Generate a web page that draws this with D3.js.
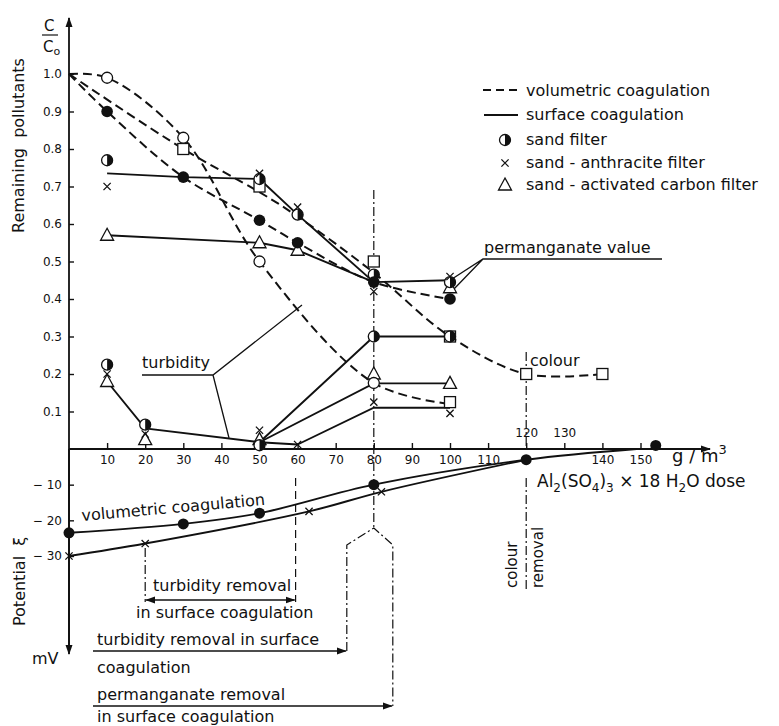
<!DOCTYPE html>
<html>
<head>
<meta charset="utf-8">
<script src="https://cdn.jsdelivr.net/npm/d3@7"></script>
<style>
  body { margin: 0; background: #fff; }
  svg text { font-family: "DejaVu Sans", sans-serif; fill: #111; }
</style>
</head>
<body>
<div id="chart-area"></div>
<script>
// tick values
const xTicks = [10, 20, 30, 40, 50, 60, 70, 80, 90, 100, 110, 120, 130, 140, 150];
const yTicks = [0.1, 0.2, 0.3, 0.4, 0.5, 0.6, 0.7, 0.8, 0.9, 1.0];
const potTicks = [-10, -20, -30];

// volumetric coagulation (dashed) curves, C/Co
const turbVolLine = [[0, 1.0], [10, 0.99], [30, 0.83], [50, 0.50], [80, 0.176], [100, 0.12]];
const colourVolLine = [[0, 1.0], [30, 0.80], [50, 0.685], [60, 0.62], [80, 0.47], [100, 0.30], [120, 0.20], [140, 0.20]];
const permVolLine = [[0, 1.0], [10, 0.90], [30, 0.725], [50, 0.61], [60, 0.55], [80, 0.445], [100, 0.40]];

// surface coagulation (solid) lines
const permSurfA = [[10, 0.735], [30, 0.725], [50, 0.72], [60, 0.625], [80, 0.445], [100, 0.45]];
const permSurfB = [[10, 0.57], [50, 0.55], [60, 0.53], [80, 0.445]];
const turbSurfMain = [[10, 0.18], [20, 0.055], [50, 0.018], [60, 0.012]];
const turbSurfHalf = [[50, 0.018], [80, 0.30], [100, 0.30]];
const turbSurfTri = [[50, 0.018], [80, 0.175], [100, 0.175]];
const turbSurfX = [[60, 0.012], [80, 0.11], [100, 0.11]];

// markers
const openPts = [[10, 0.99], [30, 0.83], [50, 0.50], [80, 0.176]];
const squarePts = [[30, 0.80], [50, 0.70], [80, 0.50], [100, 0.30], [120, 0.20], [140, 0.20], [100, 0.125]];
const filledPts = [[10, 0.90], [30, 0.725], [50, 0.61], [60, 0.55], [80, 0.445], [100, 0.40]];
const halfPts = [[10, 0.77], [50, 0.72], [60, 0.625], [80, 0.465], [100, 0.445],
                 [10, 0.225], [20, 0.065], [50, 0.01], [80, 0.30], [100, 0.30]];
const crossPts = [[10, 0.70], [50, 0.735], [60, 0.645], [80, 0.42], [100, 0.46],
                  [10, 0.20], [20, 0.04], [50, 0.05], [60, 0.012], [80, 0.125], [100, 0.095]];
const triPts = [[10, 0.57], [50, 0.55], [60, 0.53], [100, 0.43],
                [10, 0.18], [20, 0.025], [50, 0.025], [80, 0.20], [100, 0.175]];

// zeta potential, mV
const potVolLine = [[0, -23.5], [30, -21], [50, -18], [80, -10], [120, -3], [149, 0]];
const potSurfLine = [[0, -30], [20, -26.5], [63, -17.5], [82, -12], [120, -3]];
const potFilled = [[0, -23.5], [30, -21], [50, -18], [80, -10], [120, -3], [154, 1]];
const potCross = [[0, -30], [20, -26.5], [63, -17.5], [82, -12]];

const W = 779, H = 726;
const svg = d3.select("#chart-area").append("svg")
  .attr("width", W).attr("height", H);
svg.append("rect").attr("width", W).attr("height", H).attr("fill", "#fff");

const x = d3.scaleLinear().domain([0, 150]).range([69, 640.5]);
const y = d3.scaleLinear().domain([0, 1]).range([449, 74]);
const yPot = d3.scaleLinear().domain([0, -30]).range([449, 556]);

const ink = "#111";
const DASH = "9,5";
const DASHDOT = "9,3,2,3";

// arrow marker
const defs = svg.append("defs");
defs.append("marker").attr("id", "arr").attr("viewBox", "0 0 10 10")
  .attr("refX", 9).attr("refY", 5).attr("markerWidth", 10).attr("markerHeight", 10)
  .attr("markerUnits", "userSpaceOnUse").attr("orient", "auto-start-reverse")
  .append("path").attr("d", "M0,1.5L10,5L0,8.5Z").attr("fill", ink);

// axes lines with arrows
svg.append("line").attr("x1", 69).attr("y1", 449).attr("x2", 710).attr("y2", 449)
  .attr("stroke", ink).attr("stroke-width", 1.8).attr("marker-end", "url(#arr)");
svg.append("line").attr("x1", 69).attr("y1", 652).attr("x2", 69).attr("y2", 18)
  .attr("stroke", ink).attr("stroke-width", 1.8).attr("marker-end", "url(#arr)");
svg.append("line").attr("x1", 69).attr("y1", 449).attr("x2", 69).attr("y2", 654)
  .attr("stroke", ink).attr("stroke-width", 1.8).attr("marker-end", "url(#arr)");

// x axis ticks
const xAxis = svg.append("g").attr("transform", "translate(0,449)")
  .call(d3.axisBottom(x).tickValues(xTicks).tickSizeInner(-6).tickSizeOuter(0).tickPadding(6));
xAxis.select(".domain").remove();
xAxis.selectAll("line").attr("stroke", ink).attr("stroke-width", 1.4);
xAxis.selectAll("text").attr("font-size", 12).attr("font-family", "DejaVu Sans").attr("fill", ink)
  .filter(d => d === 120 || d === 130).attr("dy", null).attr("y", -12);

// y axis ticks
const yAxis = svg.append("g").attr("transform", "translate(69,0)")
  .call(d3.axisLeft(y).tickValues(yTicks).tickSizeInner(-5).tickSizeOuter(0).tickPadding(7).tickFormat(d3.format(".1f")));
yAxis.select(".domain").remove();
yAxis.selectAll("line").attr("stroke", ink).attr("stroke-width", 1.4);
yAxis.selectAll("text").attr("font-size", 12).attr("font-family", "DejaVu Sans").attr("fill", ink);

const pAxis = svg.append("g").attr("transform", "translate(69,0)")
  .call(d3.axisLeft(yPot).tickValues(potTicks).tickSizeInner(-5).tickSizeOuter(0).tickPadding(7)
    .tickFormat(d => "\u2212 " + Math.abs(d)));
pAxis.select(".domain").remove();
pAxis.selectAll("line").attr("stroke", ink).attr("stroke-width", 1.4);
pAxis.selectAll("text").attr("font-size", 12).attr("font-family", "DejaVu Sans").attr("fill", ink);

// line generators
const smooth = d3.line().x(d => x(d[0])).y(d => y(d[1])).curve(d3.curveCatmullRom.alpha(0.5));
const straight = d3.line().x(d => x(d[0])).y(d => y(d[1]));
const potLine = d3.line().x(d => x(d[0])).y(d => yPot(d[1])).curve(d3.curveCatmullRom.alpha(0.5));

const lines = svg.append("g").attr("fill", "none").attr("stroke", ink);
[turbVolLine, colourVolLine, permVolLine].forEach(s => {
  lines.append("path").attr("d", smooth(s)).attr("stroke-width", 2).attr("stroke-dasharray", DASH);
});
[permSurfA, permSurfB, turbSurfMain, turbSurfHalf, turbSurfTri, turbSurfX].forEach(s => {
  lines.append("path").attr("d", straight(s)).attr("stroke-width", 1.9);
});
[potVolLine, potSurfLine].forEach(s => {
  lines.append("path").attr("d", potLine(s)).attr("stroke-width", 1.9);
});

// guide lines (dash-dot / dashed)
const guides = svg.append("g").attr("fill", "none").attr("stroke", ink).attr("stroke-width", 1.2);
guides.append("line").attr("x1", x(80)).attr("x2", x(80)).attr("y1", 190).attr("y2", 528).attr("stroke-dasharray", DASHDOT);
guides.append("path").attr("d", `M${x(80) - 27},${651}V545L${x(80)},528L${x(80) + 19},545V706`).attr("stroke-dasharray", DASHDOT);
guides.append("line").attr("x1", x(120)).attr("x2", x(120)).attr("y1", 352).attr("y2", 449).attr("stroke-dasharray", DASHDOT);
guides.append("line").attr("x1", x(120)).attr("x2", x(120)).attr("y1", 478).attr("y2", 590).attr("stroke-dasharray", DASHDOT);
guides.append("line").attr("x1", x(60) - 2).attr("x2", x(60) - 2).attr("y1", 478).attr("y2", 602).attr("stroke-dasharray", "8,5");
guides.append("line").attr("x1", x(20)).attr("x2", x(20)).attr("y1", 548).attr("y2", 602).attr("stroke-dasharray", DASHDOT);

// range arrows
const arrows = svg.append("g").attr("stroke", ink).attr("stroke-width", 1.3);
arrows.append("line").attr("x1", x(20) + 1).attr("x2", x(60) - 3).attr("y1", 600).attr("y2", 600)
  .attr("marker-start", "url(#arr)").attr("marker-end", "url(#arr)");
arrows.append("line").attr("x1", 93).attr("x2", x(80) - 28).attr("y1", 651).attr("y2", 651).attr("marker-end", "url(#arr)");
arrows.append("line").attr("x1", 93).attr("x2", x(80) + 18).attr("y1", 706).attr("y2", 706).attr("marker-end", "url(#arr)");

// leader lines for labels
const lead = svg.append("g").attr("stroke", ink).attr("stroke-width", 1.3).attr("fill", "none");
lead.append("path").attr("d", "M142,375H213L302,305M213,375L229,438");
lead.append("path").attr("d", `M662,259H483L${x(100) + 2},279M483,259L${x(100) + 3},290`);

// marker drawers
const mk = svg.append("g");
function openC(g, p, sy) {
  g.append("circle").attr("cx", x(p[0])).attr("cy", sy(p[1])).attr("r", 5.5)
    .attr("fill", "#fff").attr("stroke", ink).attr("stroke-width", 1.3);
}
function filledC(g, p, sy, r) {
  g.append("circle").attr("cx", x(p[0])).attr("cy", sy(p[1])).attr("r", r || 5.8).attr("fill", ink);
}
function halfC(g, px, py) {
  const r = 5.5;
  g.append("circle").attr("cx", px).attr("cy", py).attr("r", r)
    .attr("fill", "#fff").attr("stroke", ink).attr("stroke-width", 1.3);
  g.append("path").attr("d", `M${px},${py - r}A${r},${r} 0 0 1 ${px},${py + r}Z`).attr("fill", ink);
}
function cross(g, px, py) {
  const s = 3.6;
  g.append("path").attr("d", `M${px - s},${py - s}L${px + s},${py + s}M${px - s},${py + s}L${px + s},${py - s}`)
    .attr("stroke", ink).attr("stroke-width", 1.3);
}
function tri(g, px, py) {
  g.append("path").attr("d", `M${px},${py - 7}L${px + 6.5},${py + 5}L${px - 6.5},${py + 5}Z`)
    .attr("fill", "#fff").attr("stroke", ink).attr("stroke-width", 1.3);
}
function square(g, px, py) {
  g.append("rect").attr("x", px - 5.5).attr("y", py - 5.5).attr("width", 11).attr("height", 11)
    .attr("fill", "#fff").attr("stroke", ink).attr("stroke-width", 1.3);
}

squarePts.forEach(p => square(mk, x(p[0]), y(p[1])));
triPts.forEach(p => tri(mk, x(p[0]), y(p[1])));
openPts.forEach(p => openC(mk, p, y));
halfPts.forEach(p => halfC(mk, x(p[0]), y(p[1])));
filledPts.forEach(p => filledC(mk, p, y));
crossPts.forEach(p => cross(mk, x(p[0]), y(p[1])));
potFilled.forEach(p => filledC(mk, p, yPot, 5.5));
potCross.forEach(p => cross(mk, x(p[0]), yPot(p[1])));

// legend
const lg = svg.append("g");
lg.append("line").attr("x1", 483).attr("x2", 518).attr("y1", 90).attr("y2", 90)
  .attr("stroke", ink).attr("stroke-width", 2).attr("stroke-dasharray", "8,5");
lg.append("line").attr("x1", 484).attr("x2", 518).attr("y1", 115).attr("y2", 115)
  .attr("stroke", ink).attr("stroke-width", 2);
halfC(lg, 505, 140);
cross(lg, 505, 163);
tri(lg, 505, 185);
const legendText = ["volumetric coagulation", "surface coagulation", "sand filter",
                    "sand - anthracite filter", "sand - activated carbon filter"];
const legendY = [96, 120, 145, 168, 190];
lg.selectAll("text.lt").data(legendText).enter().append("text")
  .attr("x", 526).attr("y", (d, i) => legendY[i]).attr("font-size", 16).text(d => d);

// text labels
function label(t, px, py, fs) {
  return svg.append("text").attr("x", px).attr("y", py).attr("font-size", fs || 16).text(t);
}
label("permanganate value", 484, 253);
label("colour", 530, 366);
label("turbidity", 142, 368);
label("turbidity removal", 153, 591);
label("in surface coagulation", 136, 618);
label("turbidity removal in surface", 97, 645);
label("coagulation", 97, 673);
label("permanganate removal", 97, 700);
label("in surface coagulation", 97, 722);
label("mV", 32, 664);

svg.append("text").attr("transform", "translate(82,521) rotate(-5)").attr("font-size", 16)
  .text("volumetric coagulation");

svg.append("text").attr("transform", "translate(517,588) rotate(-90)").attr("font-size", 15).text("colour");
svg.append("text").attr("transform", "translate(543,588) rotate(-90)").attr("font-size", 15).text("removal");

svg.append("text").attr("transform", "translate(24,233) rotate(-90)").attr("font-size", 16)
  .attr("xml:space", "preserve").text("Remaining  pollutants");
svg.append("text").attr("transform", "translate(25,626) rotate(-90)").attr("font-size", 16)
  .attr("xml:space", "preserve").text("Potential  \u03be");

// C/Co
label("C", 44, 31, 15);
svg.append("line").attr("x1", 42).attr("x2", 58).attr("y1", 35).attr("y2", 35).attr("stroke", ink).attr("stroke-width", 1.2);
const co = label("C", 43, 52, 15);
co.append("tspan").attr("font-size", 11).attr("dy", 3).text("o");

// unit and dose
const gm = svg.append("text").attr("x", 672).attr("y", 462).attr("font-size", 18).text("g / m");
gm.append("tspan").attr("font-size", 13).attr("dy", -8).text("3");

const dose = svg.append("text").attr("x", 537).attr("y", 487).attr("font-size", 17);
dose.append("tspan").text("Al");
dose.append("tspan").attr("font-size", 12).attr("dy", 5).text("2");
dose.append("tspan").attr("dy", -5).text("(SO");
dose.append("tspan").attr("font-size", 12).attr("dy", 5).text("4");
dose.append("tspan").attr("dy", -5).text(")");
dose.append("tspan").attr("font-size", 12).attr("dy", 5).text("3");
dose.append("tspan").attr("dy", -5).text(" \u00d7 18 H");
dose.append("tspan").attr("font-size", 12).attr("dy", 5).text("2");
dose.append("tspan").attr("dy", -5).text("O  dose");
</script>
</body>
</html>
